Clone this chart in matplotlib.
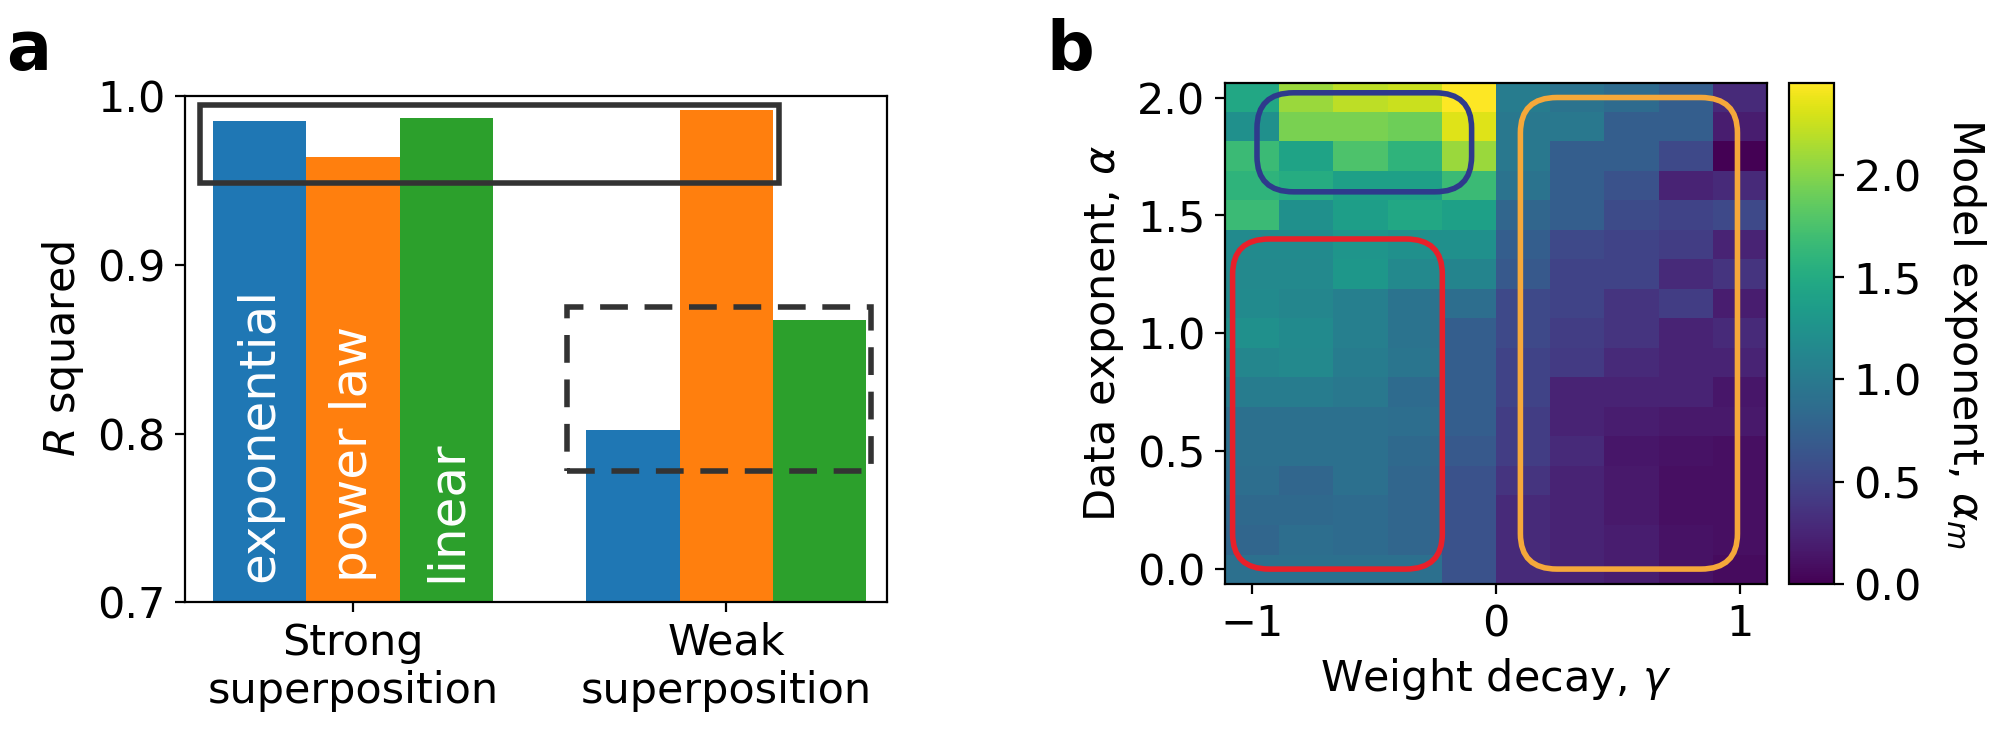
import numpy as np
import matplotlib.pyplot as plt
from matplotlib.patches import Rectangle, FancyBboxPatch

groups = ["Strong\nsuperposition", "Weak\nsuperposition"]
fits = ["exponential", "power law", "linear"]
r2_exponential = [0.985, 0.802]
r2_power = [0.964, 0.992]
r2_linear = [0.987, 0.867]

gamma = np.linspace(-1, 1, 10)
alpha = np.linspace(0, 2, 17)
# rows from alpha=2.0 (top) down to 0.0
frac = [
    [0.60, 0.85, 0.90, 0.92, 1.00, 0.42, 0.38, 0.35, 0.30, 0.12],
    [0.50, 0.80, 0.80, 0.78, 0.95, 0.40, 0.40, 0.30, 0.30, 0.08],
    [0.68, 0.58, 0.72, 0.65, 0.85, 0.40, 0.30, 0.30, 0.22, 0.00],
    [0.65, 0.62, 0.57, 0.57, 0.68, 0.38, 0.30, 0.25, 0.10, 0.12],
    [0.68, 0.50, 0.56, 0.60, 0.57, 0.33, 0.30, 0.23, 0.20, 0.22],
    [0.48, 0.48, 0.52, 0.50, 0.50, 0.30, 0.22, 0.20, 0.18, 0.10],
    [0.47, 0.47, 0.53, 0.47, 0.45, 0.28, 0.20, 0.20, 0.12, 0.15],
    [0.48, 0.46, 0.43, 0.38, 0.36, 0.22, 0.20, 0.15, 0.18, 0.08],
    [0.50, 0.48, 0.43, 0.38, 0.30, 0.22, 0.18, 0.15, 0.10, 0.12],
    [0.46, 0.47, 0.42, 0.39, 0.30, 0.20, 0.17, 0.12, 0.10, 0.10],
    [0.42, 0.42, 0.40, 0.35, 0.30, 0.20, 0.10, 0.10, 0.10, 0.06],
    [0.37, 0.37, 0.37, 0.36, 0.30, 0.18, 0.10, 0.08, 0.07, 0.07],
    [0.37, 0.37, 0.37, 0.34, 0.28, 0.18, 0.12, 0.06, 0.05, 0.04],
    [0.36, 0.33, 0.37, 0.33, 0.25, 0.15, 0.10, 0.07, 0.04, 0.04],
    [0.34, 0.34, 0.35, 0.33, 0.25, 0.12, 0.10, 0.07, 0.04, 0.04],
    [0.33, 0.36, 0.35, 0.33, 0.25, 0.12, 0.10, 0.08, 0.05, 0.04],
    [0.37, 0.37, 0.37, 0.37, 0.25, 0.12, 0.10, 0.08, 0.05, 0.03],
]
vmax = 2.45
model_exp = np.array(frac)[::-1] * vmax

plt.rcParams['font.size'] = 15.5
fig = plt.figure(figsize=(10, 3.695), dpi=200)

ax = fig.add_axes([0.0925, 0.185, 0.351, 0.685])
x = np.arange(len(groups))
w = 0.25
cols = ["#1f77b4", "#ff7f0e", "#2ca02c"]
for i, (vals, name) in enumerate(zip([r2_exponential, r2_power, r2_linear], fits)):
    ax.bar(x + (i - 1) * w, vals, w, color=cols[i])
    ax.text(x[0] + (i - 1) * w, 0.712, name, rotation=90, color="white",
            ha="center", va="bottom", fontsize=18)
ax.set_ylim(0.7, 1.0)
ax.set_xlim(-0.45, 1.43)
ax.set_xticks(x)
ax.set_xticklabels(groups)
ax.set_yticks([0.7, 0.8, 0.9, 1.0])
ax.set_ylabel("$R$ squared")
ax.add_patch(Rectangle((-0.41, 0.9486), 1.55, 0.046, fill=False, lw=2, ec="#333333", clip_on=False))
ax.add_patch(Rectangle((0.573, 0.778), 0.813, 0.097, fill=False, lw=2, ec="#333333",
                       ls=(0, (5, 3)), clip_on=False))
fig.text(0.003, 0.975, "a", fontsize=24, fontweight="bold", va="top")

bx = fig.add_axes([0.6125, 0.21, 0.271, 0.678])
dg = gamma[1] - gamma[0]
da = alpha[1] - alpha[0]
im = bx.imshow(model_exp, origin="lower", cmap="viridis", vmin=0, vmax=vmax, aspect="auto",
               extent=[gamma[0] - dg / 2, gamma[-1] + dg / 2, alpha[0] - da / 2, alpha[-1] + da / 2])
bx.set_xticks([-1, 0, 1])
bx.set_yticks([0.0, 0.5, 1.0, 1.5, 2.0])
bx.set_xlabel("Weight decay, $\\gamma$")
bx.set_ylabel("Data exponent, $\\alpha$")
for (x0, y0, x1, y1, c) in [(-0.98, 1.6, -0.1, 2.02, "#2e3a8c"),
                            (-1.08, 0.0, -0.22, 1.4, "#e8202a"),
                            (0.1, 0.0, 0.99, 2.0, "#f5a83a")]:
    bx.add_patch(FancyBboxPatch((x0, y0), x1 - x0, y1 - y0,
                                boxstyle="round,pad=0,rounding_size=0.15",
                                fill=False, ec=c, lw=2))
cax = fig.add_axes([0.8945, 0.21, 0.0225, 0.678])
cb = fig.colorbar(im, cax=cax, ticks=[0, 0.5, 1.0, 1.5, 2.0])
cb.set_label("Model exponent, $\\alpha_m$", rotation=270, labelpad=24)
fig.text(0.523, 0.975, "b", fontsize=24, fontweight="bold", va="top")

fig.savefig("out.png", dpi=200)
